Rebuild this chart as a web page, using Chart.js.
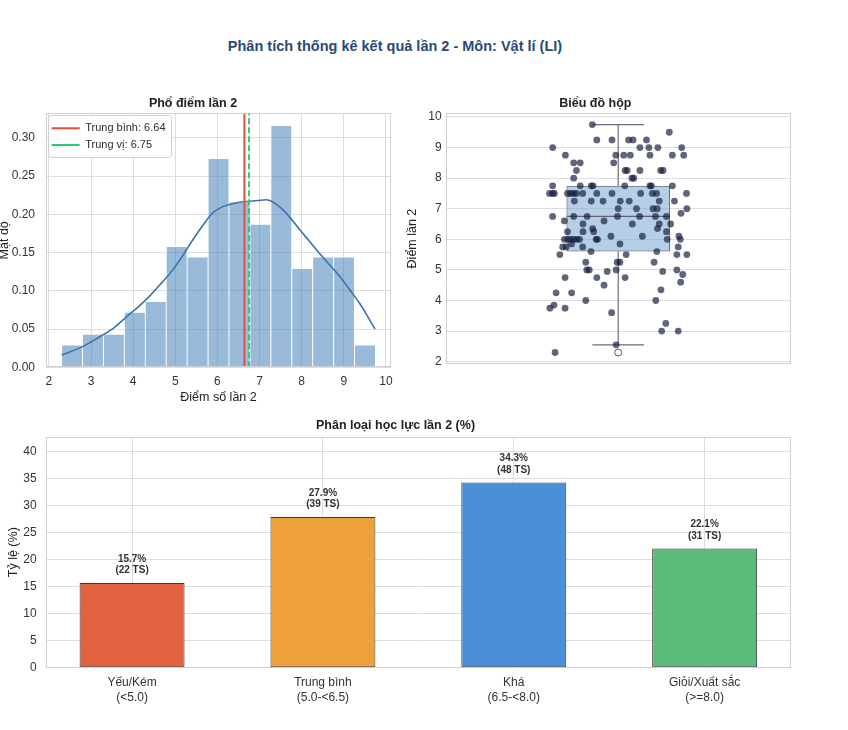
<!DOCTYPE html>
<html>
<head>
<meta charset="utf-8">
<script src="https://cdn.jsdelivr.net/npm/chart.js@4.4.1/dist/chart.umd.min.js"></script>
<style>
  html, body { margin:0; padding:0; background:#ffffff; width:848px; height:730px; overflow:hidden; }
  .box { position:absolute; }
  #mainTitle { position:absolute; left:0; width:790px; top:38px; text-align:center;
    font-family:"Liberation Sans", Arial, sans-serif; font-weight:bold; font-size:14.5px; color:#2b4a72; }
</style>
</head>
<body>
<div id="mainTitle">Phân tích thống kê kết quả lần 2 - Môn: Vật lí (LI)</div>
<div class="box" style="left:-5px; top:85px; width:405px; height:325px;"><canvas id="hist"></canvas></div>
<div class="box" style="left:400px; top:85px; width:400px; height:290px;"><canvas id="boxp"></canvas></div>
<div class="box" style="left:0px; top:405px; width:848px; height:325px;"><canvas id="bars"></canvas></div>
<script>
// ---------- DATA ----------
// Histogram (density) of scores, 15 bins between 2.30 and 9.75
const histCenters = [2.548, 3.045, 3.542, 4.039, 4.535, 5.032, 5.529, 6.026, 6.522, 7.019, 7.516, 8.013, 8.509, 9.006, 9.503];
const histDensity = [0.029, 0.043, 0.043, 0.072, 0.086, 0.158, 0.144, 0.273, 0.216, 0.187, 0.316, 0.129, 0.144, 0.144, 0.029];
// KDE curve
const kdeX = [2.30, 2.80, 3.21, 3.55, 3.84, 4.12, 4.39, 4.67, 4.95, 5.20, 5.42, 5.66, 5.89, 6.13, 6.37, 6.56, 6.76, 6.96, 7.16, 7.35, 7.55, 7.75, 7.95, 8.18, 8.42, 8.66, 8.90, 9.13, 9.37, 9.56, 9.74];
const kdeY = [0.016, 0.027, 0.040, 0.052, 0.066, 0.079, 0.093, 0.110, 0.128, 0.148, 0.167, 0.186, 0.202, 0.210, 0.214, 0.216, 0.217, 0.218, 0.219, 0.215, 0.206, 0.194, 0.180, 0.165, 0.149, 0.134, 0.119, 0.102, 0.084, 0.067, 0.050];
const meanScore = 6.64;
const medianScore = 6.75;
const meanLabel = 'Trung bình: 6.64';
const medianLabel = 'Trung vị: 6.75';
const histXMin = 1.93, histXMax = 10.12;
const histYMax = 0.332;

// Box plot statistics
const boxQ1 = 5.6, boxMedian = 6.75, boxQ3 = 7.75, whiskerLow = 2.55, whiskerHigh = 9.75;
const outliers = [2.3];
// Strip plot points: score and horizontal jitter
const stripScores = [
  9.75, 9.5,
  9.25, 9.25, 9.25, 9.25, 9.25,
  9.0, 9.0, 9.0, 9.0, 9.0,
  8.75, 8.75, 8.75, 8.75, 8.75, 8.75, 8.75,
  8.5, 8.5, 8.5,
  8.25, 8.25, 8.25, 8.25, 8.25, 8.25,
  8.0, 8.0, 8.0,
  7.75, 7.75, 7.75, 7.75, 7.75, 7.75, 7.75, 7.75,
  7.5, 7.5, 7.5, 7.5, 7.5, 7.5, 7.5, 7.5, 7.5, 7.5, 7.5, 7.5, 7.5, 7.5,
  7.25, 7.25, 7.25, 7.25, 7.25, 7.25, 7.25,
  7.0, 7.0, 7.0, 7.0, 7.0,
  6.85,
  6.75, 6.75, 6.75, 6.75, 6.75, 6.75, 6.75,
  6.6, 6.6,
  6.5, 6.5, 6.5, 6.5,
  6.35, 6.35,
  6.25, 6.25, 6.25, 6.25,
  6.1, 6.1, 6.1,
  6.0, 6.0, 6.0, 6.0, 6.0, 6.0, 6.0, 6.0, 6.0, 6.0,
  5.85, 5.85,
  5.75, 5.75, 5.75, 5.75,
  5.6, 5.6,
  5.5, 5.5, 5.5, 5.5,
  5.25, 5.25, 5.25, 5.25,
  5.0, 5.0, 5.0, 5.0,
  4.95, 4.95,
  4.85,
  4.75, 4.75, 4.75,
  4.6, 4.5, 4.35,
  4.25, 4.25,
  4.0, 4.0,
  3.85, 3.75, 3.75, 3.6,
  3.25, 3.0, 3.0,
  2.55, 2.3
];
const stripJitter = [
  -0.075, 0.148,
  -0.062, -0.018, 0.030, 0.043, 0.082,
  -0.190, 0.063, 0.089, 0.115, 0.184,
  -0.153, -0.007, 0.016, 0.035, 0.092, 0.157, 0.190,
  -0.129, -0.110, -0.013,
  -0.121, 0.020, 0.026, 0.063, 0.123, 0.130,
  -0.129, 0.040, 0.045,
  -0.190, -0.110, -0.078, -0.073, 0.019, 0.092, 0.096, 0.157,
  -0.199, -0.190, -0.185, -0.147, -0.138, -0.129, -0.121, -0.103, -0.062, -0.018, 0.065, 0.099, 0.111, 0.198,
  -0.127, -0.078, -0.044, 0.006, 0.032, 0.119, 0.163,
  0.000, 0.053, 0.101, 0.113, 0.199,
  0.182,
  -0.190, -0.129, -0.090, -0.002, 0.062, 0.108, 0.140,
  -0.156, -0.041,
  -0.102, 0.041, 0.119, 0.152,
  -0.074, 0.114,
  -0.147, -0.102, -0.071, 0.140,
  -0.021, 0.070, 0.176,
  -0.156, -0.147, -0.138, -0.129, -0.112, -0.064, -0.060, 0.142, 0.180, -0.120,
  -0.135, 0.005,
  -0.161, -0.151, -0.103, 0.174,
  -0.079, 0.112,
  -0.169, 0.023, 0.170, 0.199,
  -0.094, -0.003, 0.005, 0.104,
  -0.091, -0.084, -0.006, 0.170,
  -0.032, 0.129,
  0.187,
  -0.154, -0.062, 0.020,
  0.181, -0.041, 0.124,
  -0.180, -0.135,
  -0.094, 0.109,
  -0.186, -0.198, -0.154, -0.019,
  0.138, 0.126, 0.174,
  -0.006, -0.183
];
const boxYMin = 1.93, boxYMax = 10.12;

// Classification bar chart
const classCategories = [['Yếu/Kém', '(<5.0)'], ['Trung bình', '(5.0-<6.5)'], ['Khá', '(6.5-<8.0)'], ['Giỏi/Xuất sắc', '(>=8.0)']];
const classPercent = [15.7, 27.9, 34.3, 22.1];
const classCount = [22, 39, 48, 31];
const classXMin = -0.4525, classXMax = 3.4525;
const classYMax = 42.8;

// ---------- STYLE ----------
const FONT = '"Liberation Sans", Arial, sans-serif';
Chart.defaults.font.family = FONT;
Chart.defaults.color = '#333333';
Chart.defaults.animation = false;
const GRID = '#dcdce4';
const FRAME = '#cfcfd8';
const BOX_WIDTH = 0.3;
const CLASS_COLORS = ['#e2613f', '#eea03a', '#4a90d9', '#5cba7a'];

const framePlugin = {
  id: 'frame',
  afterDatasetsDraw(chart) {
    const a = chart.chartArea, ctx = chart.ctx;
    ctx.save();
    ctx.strokeStyle = FRAME;
    ctx.lineWidth = 1;
    ctx.strokeRect(Math.round(a.left) + 0.5, Math.round(a.top) + 0.5, Math.round(a.right - a.left) - 1, Math.round(a.bottom - a.top) - 1);
    ctx.restore();
  }
};

const legendFramePlugin = {
  id: 'legendFrame',
  afterDraw(chart) {
    const lg = chart.legend;
    if (!lg || !lg.legendHitBoxes || !lg.legendHitBoxes.length) return;
    let l = Infinity, t = Infinity, r = -Infinity, b = -Infinity;
    lg.legendHitBoxes.forEach(h => { l = Math.min(l, h.left); t = Math.min(t, h.top); r = Math.max(r, h.left + h.width); b = Math.max(b, h.top + h.height); });
    const ctx = chart.ctx;
    const x0 = l - 3.5, y0 = t - 7.8, x1 = r + 6, y1 = b + 6.2;
    ctx.save();
    ctx.fillStyle = 'rgba(255,255,255,0.9)';
    ctx.strokeStyle = '#d0d0d0';
    ctx.lineWidth = 1;
    ctx.beginPath();
    if (ctx.roundRect) ctx.roundRect(Math.round(x0) + 0.5, Math.round(y0) + 0.5, Math.round(x1 - x0), Math.round(y1 - y0), 3);
    else ctx.rect(Math.round(x0) + 0.5, Math.round(y0) + 0.5, Math.round(x1 - x0), Math.round(y1 - y0));
    ctx.fill();
    ctx.stroke();
    ctx.restore();
    lg.draw();
  }
};

const titleFont = { size: 12.5, weight: 'bold', family: FONT };
const axisTitleFont = { size: 12.5, family: FONT };
const tickFont = { size: 12, family: FONT };

// ---------- HISTOGRAM ----------
new Chart(document.getElementById('hist'), {
  type: 'bar',
  data: {
    datasets: [
      {
        type: 'bar', label: '',
        data: histCenters.map((c, i) => ({ x: c, y: histDensity[i] })),
        backgroundColor: 'rgba(70,130,185,0.55)',
        borderColor: '#ffffff', borderWidth: 0.8,
        barPercentage: 1, categoryPercentage: 1, order: 3
      },
      {
        type: 'line', label: '',
        data: kdeX.map((x, i) => ({ x, y: kdeY[i] })),
        borderColor: '#3b72ad', borderWidth: 1.6, pointRadius: 0,
        cubicInterpolationMode: 'monotone', fill: false, order: 2
      },
      {
        type: 'line', label: meanLabel,
        data: [{ x: meanScore, y: 0 }, { x: meanScore, y: histYMax }],
        borderColor: '#e74c3c', borderWidth: 2, pointRadius: 0, order: 0
      },
      {
        type: 'line', label: medianLabel,
        data: [{ x: medianScore, y: 0 }, { x: medianScore, y: histYMax }],
        borderColor: '#2ecc71', borderWidth: 2, borderDash: [6, 3], pointRadius: 0, order: 1
      }
    ]
  },
  options: {
    responsive: true, maintainAspectRatio: false,
    layout: { padding: { left: 0, right: 9, top: 0, bottom: 0 } },
    plugins: {
      title: { display: true, text: 'Phổ điểm lần 2', font: titleFont, color: '#222', padding: { top: 10.8, bottom: 2.5 } },
      legend: {
        display: true, position: 'chartArea', align: 'start',
        title: { display: true, text: '', font: { size: 1 }, padding: { top: 30.9, bottom: 0 } },
        labels: {
          usePointStyle: true, pointStyle: 'line', pointStyleWidth: 28, boxHeight: 11,
          font: { size: 11, family: FONT }, color: '#333', padding: 5.7,
          filter: (item) => item.text !== ''
        }
      },
      tooltip: { enabled: false }
    },
    scales: {
      x: {
        type: 'linear', min: histXMin, max: histXMax, offset: false,
        ticks: { stepSize: 1, includeBounds: false, font: tickFont, color: '#333', padding: 7 },
        grid: { color: GRID, drawTicks: false, offset: false },
        border: { display: false },
        title: { display: true, text: 'Điểm số lần 2', font: axisTitleFont, color: '#222', padding: { top: 0, bottom: 4.5 } },
        afterFit: (s) => { s.height = 42.7; }
      },
      y: {
        type: 'linear', min: 0, max: histYMax,
        ticks: { stepSize: 0.05, includeBounds: false, font: tickFont, color: '#333', padding: 11, callback: (v) => v.toFixed(2) },
        grid: { color: GRID, drawTicks: false },
        border: { display: false },
        title: { display: true, text: 'Mật độ', font: axisTitleFont, color: '#222', padding: { top: 2, bottom: 0 } },
        afterFit: (s) => { s.width = 51; }
      }
    }
  },
  plugins: [framePlugin, legendFramePlugin]
});

// ---------- BOX PLOT ----------
new Chart(document.getElementById('boxp'), {
  type: 'bar',
  data: {
    datasets: [
      {
        type: 'bar', data: [{ x: 0, y: [boxQ1, boxQ3] }],
        backgroundColor: 'rgba(120,170,210,0.55)', borderColor: '#5e6270', borderWidth: 1,
        borderSkipped: false, barPercentage: BOX_WIDTH, categoryPercentage: 1, order: 10
      },
      { type: 'line', data: [{ x: -BOX_WIDTH / 2, y: boxMedian }, { x: BOX_WIDTH / 2, y: boxMedian }], borderColor: '#5e6270', borderWidth: 1.2, pointRadius: 0, order: 5 },
      { type: 'line', data: [{ x: 0, y: boxQ1 }, { x: 0, y: whiskerLow }], borderColor: '#6a6e7a', borderWidth: 1.2, pointRadius: 0, order: 5 },
      { type: 'line', data: [{ x: 0, y: boxQ3 }, { x: 0, y: whiskerHigh }], borderColor: '#6a6e7a', borderWidth: 1.2, pointRadius: 0, order: 5 },
      { type: 'line', data: [{ x: -BOX_WIDTH / 4, y: whiskerLow }, { x: BOX_WIDTH / 4, y: whiskerLow }], borderColor: '#6a6e7a', borderWidth: 1.2, pointRadius: 0, order: 5 },
      { type: 'line', data: [{ x: -BOX_WIDTH / 4, y: whiskerHigh }, { x: BOX_WIDTH / 4, y: whiskerHigh }], borderColor: '#6a6e7a', borderWidth: 1.2, pointRadius: 0, order: 5 },
      {
        type: 'scatter', data: outliers.map(v => ({ x: 0, y: v })),
        pointRadius: 3.5, backgroundColor: '#ffffff', borderColor: '#555a66', borderWidth: 1, order: 2
      },
      {
        type: 'scatter', data: stripScores.map((v, i) => ({ x: stripJitter[i], y: v })),
        pointRadius: 3.4, backgroundColor: 'rgba(22,28,62,0.68)', borderWidth: 0, order: 1
      }
    ]
  },
  options: {
    responsive: true, maintainAspectRatio: false,
    layout: { padding: { left: 0, right: 9.3, top: 0, bottom: 8.3 } },
    plugins: {
      title: { display: true, text: 'Biểu đồ hộp', font: titleFont, color: '#222', padding: { top: 10.8, bottom: 2.5 } },
      legend: { display: false },
      tooltip: { enabled: false }
    },
    scales: {
      x: {
        type: 'linear', min: -0.5, max: 0.5, display: false, offset: false,
        grid: { offset: false },
        afterBuildTicks: (s) => { s.ticks = [{ value: 0 }]; }
      },
      y: {
        type: 'linear', min: boxYMin, max: boxYMax,
        ticks: { stepSize: 1, includeBounds: false, font: tickFont, color: '#333', padding: 4 },
        grid: { color: GRID, drawTicks: false },
        border: { display: false },
        title: { display: true, text: 'Điểm lần 2', font: axisTitleFont, color: '#222', padding: { top: 5.5, bottom: 0 } },
        afterFit: (s) => { s.width = 45.7; }
      }
    }
  },
  plugins: [framePlugin]
});

// ---------- CLASSIFICATION BARS ----------
const barLabelPlugin = {
  id: 'barLabels',
  afterDatasetsDraw(chart) {
    const meta = chart.getDatasetMeta(0);
    const ctx = chart.ctx;
    ctx.save();
    ctx.font = 'bold 10px ' + FONT;
    ctx.fillStyle = '#333';
    ctx.textAlign = 'center';
    ctx.textBaseline = 'middle';
    meta.data.forEach((bar, i) => {
      ctx.fillText(classPercent[i].toFixed(1) + '%', bar.x, bar.y - 24);
      ctx.fillText('(' + classCount[i] + ' TS)', bar.x, bar.y - 12.5);
    });
    ctx.restore();
  }
};

new Chart(document.getElementById('bars'), {
  type: 'bar',
  data: {
    datasets: [{
      data: classPercent.map((v, i) => ({ x: i, y: v })),
      backgroundColor: CLASS_COLORS, borderColor: '#3a3a3a', borderWidth: 1,
      borderSkipped: false, barPercentage: 0.55, categoryPercentage: 1
    }]
  },
  options: {
    responsive: true, maintainAspectRatio: false,
    layout: { padding: { left: 0, right: 57, top: 0, bottom: 0 } },
    plugins: {
      title: { display: true, text: 'Phân loại học lực lần 2 (%)', font: titleFont, color: '#222', padding: { top: 13.5, bottom: 3.2 } },
      legend: { display: false },
      tooltip: { enabled: false }
    },
    scales: {
      x: {
        type: 'linear', min: classXMin, max: classXMax, offset: false,
        afterBuildTicks: (s) => { s.ticks = classCategories.map((c, i) => ({ value: i })); },
        ticks: { font: tickFont, color: '#333', padding: 8, callback: (v) => classCategories[v] },
        grid: { color: GRID, drawTicks: false, offset: false },
        border: { display: false },
        afterFit: (s) => { s.height = 62.3; }
      },
      y: {
        type: 'linear', min: 0, max: classYMax,
        ticks: { stepSize: 5, includeBounds: false, font: tickFont, color: '#333', padding: 9 },
        grid: { color: GRID, drawTicks: false },
        border: { display: false },
        title: { display: true, text: 'Tỷ lệ (%)', font: axisTitleFont, color: '#222', padding: { top: 5.8, bottom: 0 } },
        afterFit: (s) => { s.width = 45.7; }
      }
    }
  },
  plugins: [framePlugin, barLabelPlugin]
});
</script>
</body>
</html>
